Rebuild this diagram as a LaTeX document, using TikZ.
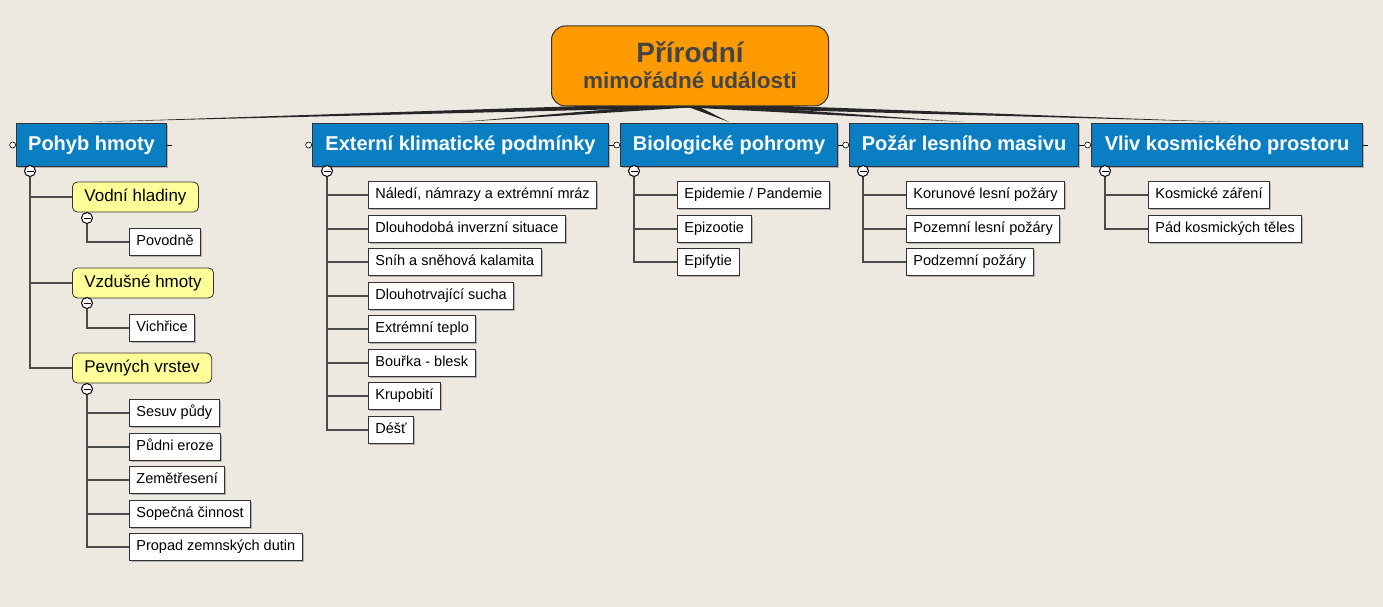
\documentclass[tikz,border=0pt]{standalone}
\usepackage{fontspec}
\setmainfont{Liberation Sans}
\usetikzlibrary{positioning,calc,shadows}

\definecolor{paper}{HTML}{EDE9E1}
\definecolor{catblue}{HTML}{0A7EC2}
\definecolor{rootorange}{HTML}{FF9A00}
\definecolor{subyellow}{HTML}{FFFF99}
\definecolor{roottext}{HTML}{454545}
\definecolor{edge}{HTML}{333333}
\definecolor{wire}{HTML}{4A4A4A}

\begin{document}
\begin{tikzpicture}[x=1pt, y=-1pt,
    rootbox/.style={draw=edge, line width=1pt, fill=rootorange, rounded corners=14pt,
        minimum width=277pt, minimum height=80pt, align=center, text=roottext, font=\bfseries},
    catbox/.style={draw=edge, line width=1pt, fill=catblue, text=white, anchor=north west,
        minimum height=43pt, inner sep=0pt, text height=14.5pt, text depth=4pt,
        font=\fontsize{20}{24}\selectfont\bfseries,
        drop shadow={shadow xshift=1.5pt, shadow yshift=-1.5pt, fill=gray!60, opacity=1}},
    subbox/.style={draw=edge, line width=0.8pt, fill=subyellow, rounded corners=5pt, anchor=west,
        minimum height=30pt, inner xsep=12pt, inner ysep=0pt, text height=12.5pt, text depth=3.5pt,
        font=\fontsize{17}{20}\selectfont},
    leaf/.style={draw=edge, line width=0.8pt, fill=white, anchor=west,
        minimum height=27pt, inner xsep=7pt, inner ysep=0pt, text height=10.5pt, text depth=3pt,
        font=\fontsize{14.5}{16}\selectfont,
        drop shadow={shadow xshift=1.5pt, shadow yshift=-1.5pt, fill=gray!60, opacity=1}},
    fold/.style={circle, draw=black, line width=1pt, fill=white, minimum size=11pt, inner sep=0pt,
        path picture={\draw[line width=1pt] ([xshift=-3.5pt]path picture bounding box.center)
            -- ([xshift=3.5pt]path picture bounding box.center);}},
    knob/.style={circle, draw=black, line width=0.6pt, fill=white, minimum size=6pt, inner sep=0pt},
    link/.style={draw=wire, line width=1.5pt},
    wedge/.style={fill=black!85}]

    % paper
    \fill[paper] (0,0) rectangle (1383,607);
    \useasboundingbox (0,0) rectangle (1383,607);

    % main branches
    \node[catbox, minimum width=150pt] (pohyb) at (16,123) {Pohyb hmoty};
    \node[catbox, minimum width=296pt] (externi) at (312,123) {Externí klimatické podmínky};
    \node[catbox, minimum width=217pt] (bio) at (620,123) {Biologické pohromy};
    \node[catbox, minimum width=229pt] (pozar) at (849,123) {Požár lesního masivu};
    \node[catbox, minimum width=271pt] (vliv) at (1091,123) {Vliv kosmického prostoru};

    \node[knob, left=0pt of pohyb] (kp) {};
    \node[knob, left=0pt of externi] (ke) {};
    \node[knob, left=0pt of bio] (kb) {};
    \node[knob, left=0pt of pozar] (kz) {};
    \node[knob, left=0pt of vliv] (kv) {};
    \draw[line width=0.6pt] (pohyb.east) -- ++(5,0);
    \draw[line width=0.6pt] (externi.east) -- ++(5,0);
    \draw[line width=0.6pt] (bio.east) -- ++(5,0);
    \draw[line width=0.6pt] (pozar.east) -- ++(5,0);
    \draw[line width=0.6pt] (vliv.east) -- ++(5,0);

    % root and its tapered links
    \coordinate (hub) at (690,105);
    \foreach \t in {pohyb,externi,bio,pozar,vliv}
        \fill[wedge] ($(hub)!2.5pt!90:(\t.north)$) -- ([yshift=1pt]\t.north)
            -- ($(hub)!2.5pt!-90:(\t.north)$) -- cycle;
    \node[rootbox] (root) at (690,66) {};
    \node[text=roottext, font=\fontsize{28}{28}\selectfont\bfseries, anchor=base] (rt1)
        at (690,63) {Přírodní};
    \node[text=roottext, font=\fontsize{22.5}{24}\selectfont\bfseries, anchor=base] (rt2)
        at (690,89) {mimořádné události};

    % Pohyb hmoty
    \node[fold] (fp) at (30,171) {};
    \node[subbox] (s1) at (72,197) {Vodní hladiny};
    \node[subbox] (s2) at (72,283) {Vzdušné hmoty};
    \node[subbox] (s3) at (72,368) {Pevných vrstev};
    \draw[link] (fp.south) |- (s1.west);
    \draw[link] (fp.south) |- (s2.west);
    \draw[link] (fp.south) |- (s3.west);

    \node[fold] (fs1) at (87,218) {};
    \node[leaf] (p1) at (129,242) {Povodně};
    \draw[link] (fs1.south) |- (p1.west);

    \node[fold] (fs2) at (87,303) {};
    \node[leaf] (q1) at (129,328) {Vichřice};
    \draw[link] (fs2.south) |- (q1.west);

    \node[fold] (fs3) at (87,389) {};
    \node[leaf] (r1) at (129,413) {Sesuv půdy};
    \node[leaf] (r2) at (129,447) {Půdni eroze};
    \node[leaf] (r3) at (129,480) {Zemětřesení};
    \node[leaf] (r4) at (129,514) {Sopečná činnost};
    \node[leaf] (r5) at (129,547) {Propad zemnských dutin};
    \draw[link] (fs3.south) |- (r1.west);
    \draw[link] (fs3.south) |- (r2.west);
    \draw[link] (fs3.south) |- (r3.west);
    \draw[link] (fs3.south) |- (r4.west);
    \draw[link] (fs3.south) |- (r5.west);

    % Externi klimaticke podminky
    \node[fold] (fe) at (327,171) {};
    \node[leaf] (e1) at (368,195) {Náledí, námrazy a extrémní mráz};
    \node[leaf] (e2) at (368,229) {Dlouhodobá inverzní situace};
    \node[leaf] (e3) at (368,262) {Sníh a sněhová kalamita};
    \node[leaf] (e4) at (368,296) {Dlouhotrvající sucha};
    \node[leaf] (e5) at (368,329) {Extrémní teplo};
    \node[leaf] (e6) at (368,363) {Bouřka - blesk};
    \node[leaf] (e7) at (368,396) {Krupobití};
    \node[leaf] (e8) at (368,430) {Déšť};
    \draw[link] (fe.south) |- (e1.west);
    \draw[link] (fe.south) |- (e2.west);
    \draw[link] (fe.south) |- (e3.west);
    \draw[link] (fe.south) |- (e4.west);
    \draw[link] (fe.south) |- (e5.west);
    \draw[link] (fe.south) |- (e6.west);
    \draw[link] (fe.south) |- (e7.west);
    \draw[link] (fe.south) |- (e8.west);

    % Biologicke pohromy
    \node[fold] (fb) at (634,171) {};
    \node[leaf] (b1) at (677,195) {Epidemie / Pandemie};
    \node[leaf] (b2) at (677,229) {Epizootie};
    \node[leaf] (b3) at (677,262) {Epifytie};
    \draw[link] (fb.south) |- (b1.west);
    \draw[link] (fb.south) |- (b2.west);
    \draw[link] (fb.south) |- (b3.west);

    % Pozar lesniho masivu
    \node[fold] (fz) at (863,171) {};
    \node[leaf] (z1) at (906,195) {Korunové lesní požáry};
    \node[leaf] (z2) at (906,229) {Pozemní lesní požáry};
    \node[leaf] (z3) at (906,262) {Podzemní požáry};
    \draw[link] (fz.south) |- (z1.west);
    \draw[link] (fz.south) |- (z2.west);
    \draw[link] (fz.south) |- (z3.west);

    % Vliv kosmickeho prostoru
    \node[fold] (fv) at (1105,171) {};
    \node[leaf] (v1) at (1148,195) {Kosmické záření};
    \node[leaf] (v2) at (1148,229) {Pád kosmických těles};
    \draw[link] (fv.south) |- (v1.west);
    \draw[link] (fv.south) |- (v2.west);
\end{tikzpicture}
\end{document}
